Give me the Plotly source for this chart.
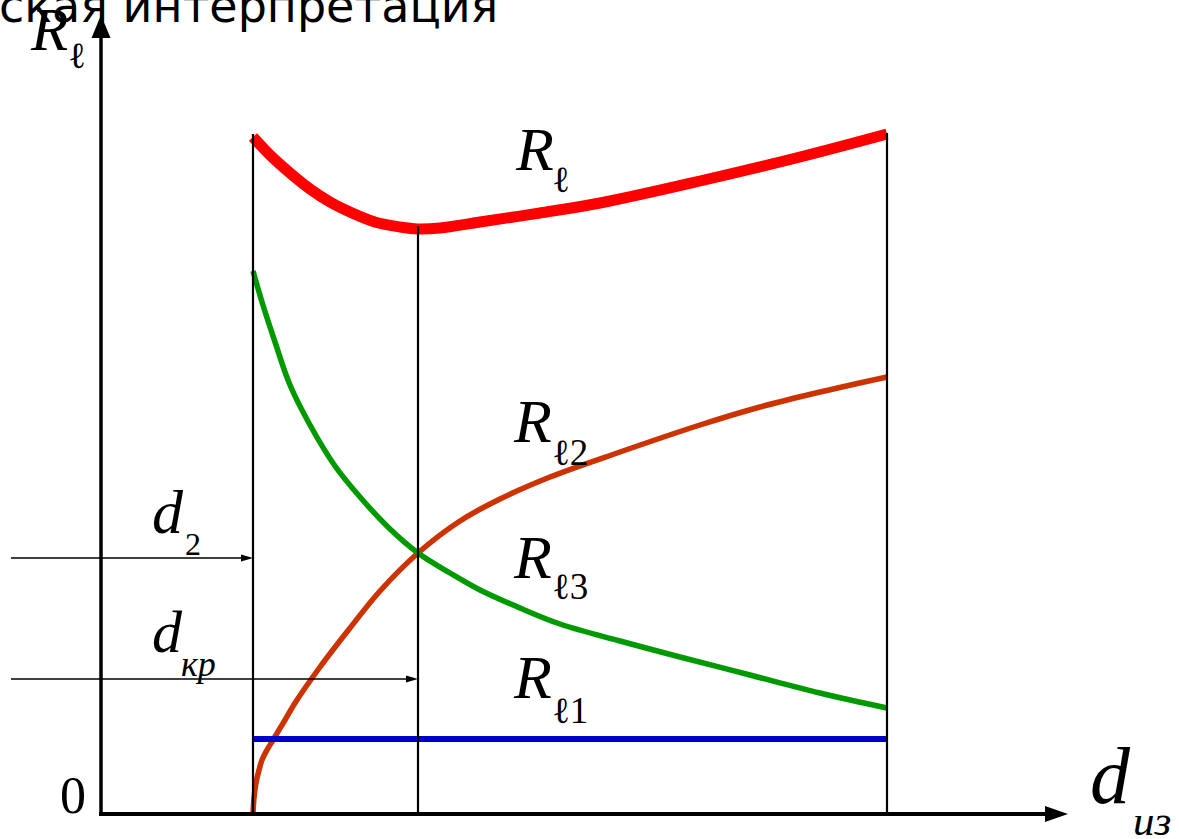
import plotly.graph_objects as go

# Coordinates: one unit per screen pixel, origin at the corner of the axes
d2 = 152        # d_2
d_kr = 317      # critical thickness d_кр
d_end = 786     # right end of the plotted range

# Total resistance R_l (thick red)
r_x = [152, 169, 189, 209, 229, 249, 274, 299, 317, 339, 379, 439, 499, 599, 699, 786]
r_y = [677, 659, 641, 625, 612, 602, 592, 587, 585, 586, 592, 601, 611, 633, 657, 680]

# R_l3 (green, falling)
r3_x = [152, 161, 174, 189, 209, 234, 259, 289, 317, 349, 379, 419, 459, 519, 579, 649, 719, 786]
r3_y = [543, 512, 472, 429, 389, 348, 317, 285, 261, 241, 224, 206, 190, 173, 157, 139, 121, 106]

# R_l2 (orange, rising)
r2_x = [152, 153, 155, 158, 161, 166, 172, 184, 194, 219, 249, 279, 317, 359, 399, 449, 519, 599, 659, 719, 786]
r2_y = [0, 16, 31, 44, 54, 64, 74, 94, 111, 147, 186, 223, 261, 293, 315, 337, 362, 389, 407, 422, 437]

# R_l1 (blue, constant)
r1_x = [d2, d_end]
r1_y = [75, 75]

# Arrow levels for d_2 and d_кр markers
arrow_d2_y = 256
arrow_kr_y = 135
arrow_start_x = -90

# Axis extents
x_axis_end = 967
y_axis_end = 799

fig = go.Figure()

fig.add_trace(go.Scatter(x=r2_x, y=r2_y, mode="lines", line=dict(color="#CC3300", width=5.5, shape="spline"), hoverinfo="skip"))
fig.add_trace(go.Scatter(x=r3_x, y=r3_y, mode="lines", line=dict(color="#009900", width=5.5, shape="spline"), hoverinfo="skip"))
fig.add_trace(go.Scatter(x=r1_x, y=r1_y, mode="lines", line=dict(color="#0000CC", width=6), hoverinfo="skip"))
fig.add_trace(go.Scatter(x=r_x, y=r_y, mode="lines", line=dict(color="#FF0000", width=11, shape="spline"), hoverinfo="skip"))

# Vertical guide lines at d_2, d_кр and the right end, up to the total curve
for xv, top in [(d2, r_y[0] + 3), (d_kr, r_y[r_x.index(d_kr)] + 3), (d_end, r_y[-1] + 1)]:
    fig.add_trace(go.Scatter(x=[xv, xv], y=[0, top], mode="lines", line=dict(color="black", width=2.2), hoverinfo="skip"))

# Marker arrows for d_2 and d_кр
for xv, yv in [(d2, arrow_d2_y), (d_kr, arrow_kr_y)]:
    fig.add_trace(go.Scatter(x=[arrow_start_x, xv - 8], y=[yv, yv], mode="lines", line=dict(color="black", width=1.3), hoverinfo="skip"))

# Axes
fig.add_trace(go.Scatter(x=[0, 0], y=[-2, y_axis_end - 20], mode="lines", line=dict(color="black", width=3.5), hoverinfo="skip"))
fig.add_trace(go.Scatter(x=[-2, x_axis_end - 20], y=[0, 0], mode="lines", line=dict(color="black", width=4), hoverinfo="skip"))

shapes = []
def head(tip_x, tip_y, dx, dy, length, half):
    # triangle pointing along (dx, dy)
    bx, by = tip_x - dx * length, tip_y - dy * length
    px, py = -dy * half, dx * half
    return dict(type="path", xref="x", yref="y",
                path=f"M{tip_x},{tip_y} L{bx + px},{by + py} L{bx - px},{by - py} Z",
                fillcolor="black", line=dict(color="black", width=0))

shapes.append(head(0, y_axis_end, 0, 1, 23, 9.5))
shapes.append(head(x_axis_end, 0, 1, 0, 23, 8))
shapes.append(head(d2, arrow_d2_y, 1, 0, 12, 3.5))
shapes.append(head(d_kr, arrow_kr_y, 1, 0, 12, 3.5))

SERIF = "Liberation Serif"
X0, Y0 = 101, 814  # pixel position of the origin

def label(text, left_px, center_py, size, family=SERIF):
    return dict(x=left_px - X0, y=Y0 - center_py, xref="x", yref="y", text=text,
                showarrow=False, xanchor="left", yanchor="middle",
                font=dict(family=family, size=size, color="black"))

R_SIZE = 62
SUB_SIZE = 37
annotations = [
    dict(x=0, y=1, xref="paper", yref="paper", xshift=-3, yshift=-6,
         text="ская интерпретация", showarrow=False, xanchor="left", yanchor="middle",
         font=dict(family="DejaVu Sans", size=46, color="black")),
    label("<i>R</i>", 28, 29, 61),
    label("ℓ", 66, 55, SUB_SIZE),
    label("<i>R</i>", 513, 149, R_SIZE),
    label("ℓ", 550, 179, SUB_SIZE),
    label("<i>R</i>", 511, 421, R_SIZE),
    label("ℓ2", 550, 452, SUB_SIZE),
    label("<i>R</i>", 511, 557, R_SIZE),
    label("ℓ3", 550, 586, SUB_SIZE),
    label("<i>R</i>", 511, 677, R_SIZE),
    label("ℓ1", 550, 710, SUB_SIZE),
    label("<i>d</i>", 150, 512, 62),
    label("2", 183, 544, 32),
    label("<i>d</i>", 150, 632, 60),
    label("<i>кр</i>", 179, 664, 36),
    label("0", 58, 795, 52),
    label("<i>d</i>", 1088, 776, 80),
    label("<i>из</i>", 1131, 820, 43),
]

fig.update_layout(
    width=1179, height=839, autosize=False,
    margin=dict(l=0, r=0, t=0, b=0, pad=0),
    paper_bgcolor="white", plot_bgcolor="white",
    showlegend=False,
    xaxis=dict(range=[-101, 1078], visible=False, fixedrange=True),
    yaxis=dict(range=[-25, 814], visible=False, fixedrange=True),
    shapes=shapes,
    annotations=annotations,
)

fig.write_html("out.html")
